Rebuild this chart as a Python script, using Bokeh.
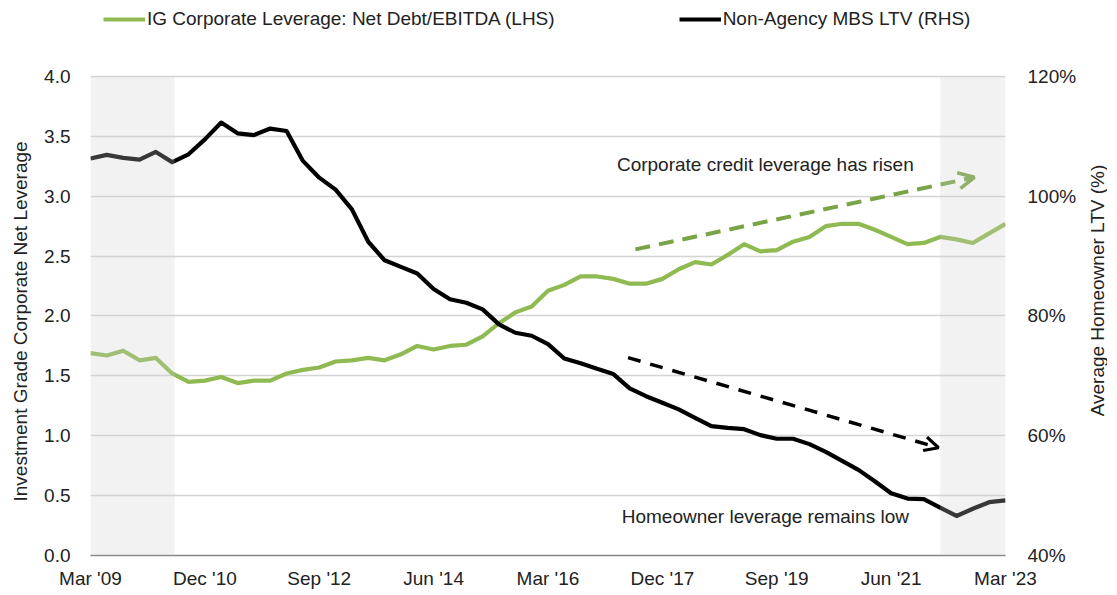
import math
from bokeh.plotting import figure
from bokeh.layouts import row
from bokeh.models import (Range1d, LinearAxis, FixedTicker, PrintfTickFormatter, Legend,
                          LegendItem, Arrow, OpenHead, Label, BoxAnnotation, ColumnDataSource,
                          Title)
from bokeh.embed import file_html
from bokeh.resources import INLINE

# ---------------- data ----------------
tick_labels = ["Mar '09", "Dec '10", "Sep '12", "Jun '14", "Mar '16",
               "Dec '17", "Sep '19", "Jun '21", "Mar '23"]
tick_index = [0, 7, 14, 21, 28, 35, 42, 49, 56]

ig_net_leverage = [1.69, 1.67, 1.71, 1.63, 1.65, 1.52, 1.45, 1.46, 1.49, 1.44,
                   1.46, 1.46, 1.52, 1.55, 1.57, 1.62, 1.63, 1.65, 1.63, 1.68,
                   1.75, 1.72, 1.75, 1.76, 1.83, 1.94, 2.03, 2.08, 2.21, 2.26,
                   2.33, 2.33, 2.31, 2.27, 2.27, 2.31, 2.39, 2.45, 2.43, 2.51,
                   2.60, 2.54, 2.55, 2.62, 2.66, 2.75, 2.77, 2.77, 2.72, 2.66,
                   2.60, 2.61, 2.66, 2.64, 2.61, 2.69, 2.77]

mbs_ltv = [106.3, 106.9, 106.4, 106.1, 107.4, 105.7, 107.0, 109.5, 112.3, 110.5,
           110.2, 111.3, 110.9, 105.9, 103.1, 101.1, 97.8, 92.4, 89.3, 88.2,
           87.1, 84.5, 82.8, 82.2, 81.1, 78.6, 77.2, 76.7, 75.3, 72.9,
           72.1, 71.2, 70.3, 67.9, 66.6, 65.5, 64.4, 63.0, 61.6, 61.3,
           61.1, 60.1, 59.5, 59.5, 58.6, 57.3, 55.8, 54.3, 52.4, 50.4,
           49.5, 49.4, 48.0, 46.6, 47.8, 48.9, 49.2]

quarter_index = list(range(len(ig_net_leverage)))

shade_start = [0, 52]
shade_end = [5.15, 56]

left_ticks = [0.0, 0.5, 1.0, 1.5, 2.0, 2.5, 3.0, 3.5, 4.0]
right_ticks = [40, 60, 80, 100, 120]

# ---------------- style ----------------
FONT = "Liberation Sans"
FS = "19px"
TXT = "#222222"
GREEN = "#8FBA52"
GREEN_DARK = "#78A445"

# the frame is extended above 4.0 so that the legend row sits inside it
Y_TOP = 4.576
LTV_TOP = 40 + 20 * Y_TOP
FRAME_H = 548
B_TOP, B_BOTTOM = 7, 33
TOTAL_H = B_TOP + FRAME_H + B_BOTTOM

p = figure(frame_width=915, frame_height=FRAME_H,
           min_border_left=88, min_border_right=72, min_border_top=B_TOP, min_border_bottom=B_BOTTOM,
           x_range=Range1d(0, 56), y_range=Range1d(0, Y_TOP),
           output_backend="svg", toolbar_location=None)
p.outline_line_color = None
p.background_fill_color = "white"

p.extra_y_ranges = {"ltv": Range1d(40, LTV_TOP)}

# grid
p.xgrid.visible = False
p.ygrid.ticker = FixedTicker(ticks=left_ticks)
p.ygrid.grid_line_color = "#d4d4d4"
p.ygrid.grid_line_width = 1.3

# left axis
ya = p.yaxis[0]
ya.ticker = FixedTicker(ticks=left_ticks)
ya.formatter = PrintfTickFormatter(format="%.1f")
ya.axis_line_color = None
ya.major_tick_line_color = None
ya.minor_tick_line_color = None
ya.major_tick_out = 0
ya.major_tick_in = 0
ya.major_label_standoff = 20
ya.major_label_text_font = FONT
ya.major_label_text_font_size = FS
ya.major_label_text_color = TXT

# left axis title (placed in the left panel, outside the tick labels)
p.add_layout(Title(text="Investment Grade Corporate Net Leverage", align="left", offset=54,
                   vertical_align="top", standoff=18, text_font=FONT, text_font_size=FS,
                   text_font_style="normal", text_color=TXT), "left")

# right axis
ra = LinearAxis(y_range_name="ltv", ticker=FixedTicker(ticks=right_ticks),
                formatter=PrintfTickFormatter(format="%d%%"))
ra.axis_line_color = None
ra.major_tick_line_color = None
ra.minor_tick_line_color = None
ra.major_tick_out = 0
ra.major_tick_in = 0
ra.major_label_standoff = 22
ra.major_label_text_font = FONT
ra.major_label_text_font_size = FS
ra.major_label_text_color = TXT
p.add_layout(ra, "right")

# bottom axis
xa = p.xaxis[0]
xa.ticker = FixedTicker(ticks=tick_index)
xa.major_label_overrides = {i: lab for i, lab in zip(tick_index, tick_labels)}
xa.axis_line_color = "#868686"
xa.axis_line_width = 1.5
xa.major_tick_line_color = None
xa.minor_tick_line_color = None
xa.major_tick_out = 0
xa.major_tick_in = 0
xa.major_label_standoff = 12
xa.major_label_text_font = FONT
xa.major_label_text_font_size = FS
xa.major_label_text_color = TXT

# lines
src = ColumnDataSource(dict(x=quarter_index, ig=ig_net_leverage, ltv=mbs_ltv))
g = p.line("x", "ig", source=src, line_color=GREEN, line_width=4.2, line_join="round")
b = p.line("x", "ltv", source=src, y_range_name="ltv", line_color="black",
           line_width=4.2, line_join="round")

# annotations
p.add_layout(Label(x=41.3, y=3.267, text="Corporate credit leverage has risen",
                   text_align="center", text_baseline="middle", text_font=FONT,
                   text_font_size=FS, text_color=TXT))
p.add_layout(Label(x=41.3, y=0.326, text="Homeowner leverage remains low",
                   text_align="center", text_baseline="middle", text_font=FONT,
                   text_font_size=FS, text_color=TXT))

p.add_layout(Arrow(end=OpenHead(size=16, line_color=GREEN_DARK, line_width=3.5),
                   x_start=33.35, y_start=2.556, x_end=54.1, y_end=3.158,
                   line_color=GREEN_DARK, line_width=4, line_dash="15 9"))
p.add_layout(Arrow(end=OpenHead(size=14, line_color="black", line_width=3.2),
                   x_start=32.9, y_start=1.652, x_end=51.9, y_end=0.90,
                   line_color="black", line_width=3.5, line_dash="13 10"))

# shaded periods (drawn over the lines)
for s, e in zip(shade_start, shade_end):
    p.add_layout(BoxAnnotation(left=s, right=e, bottom=0, top=4, fill_color="#cfcfcf",
                               fill_alpha=0.27, line_color=None))

# legend
legend = Legend(items=[LegendItem(label="IG Corporate Leverage: Net Debt/EBITDA (LHS)", renderers=[g]),
                       LegendItem(label="Non-Agency MBS LTV (RHS)", renderers=[b])],
                location=(13, FRAME_H - 23), orientation="horizontal", spacing=124,
                glyph_width=42, glyph_height=20, label_height=20, label_standoff=2,
                padding=0, margin=0, border_line_color=None, background_fill_alpha=0,
                label_text_font=FONT, label_text_font_size=FS, label_text_color=TXT,
                label_text_line_height=1.0)
p.add_layout(legend, "center")

# narrow companion figure carrying the right-hand axis title (reads bottom to top)
t = figure(width=28, height=TOTAL_H, min_border=0, x_axis_location=None, y_axis_location=None,
           x_range=Range1d(0, 1), y_range=Range1d(0, 1),
           output_backend="svg", toolbar_location=None)
t.grid.visible = False
t.outline_line_color = None
t.add_layout(Label(x=18, y=TOTAL_H - 326, x_units="screen", y_units="screen",
                   text="Average Homeowner LTV (%)", angle=math.pi / 2,
                   text_align="center", text_baseline="middle", text_font=FONT,
                   text_font_size=FS, text_color=TXT))

layout = row(p, t)
open("out.html", "w").write(file_html(layout, INLINE))
